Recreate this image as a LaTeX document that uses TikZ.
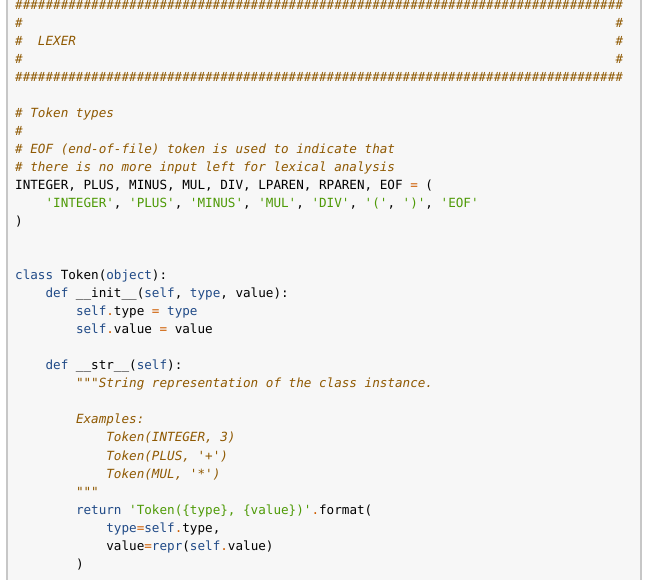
\documentclass[tikz,border=0pt]{standalone}
\usepackage{fontspec}
\newfontfamily\mono{DejaVu Sans Mono}
\definecolor{cmC}{HTML}{8F5902}
\definecolor{kwC}{HTML}{204A87}
\definecolor{stC}{HTML}{4E9A06}
\definecolor{opC}{HTML}{CE5C00}
\newcommand\cC[1]{\textcolor{cmC}{\itshape #1}}
\newcommand\cK[1]{\textcolor{kwC}{#1}}
\newcommand\cS[1]{\textcolor{stC}{#1}}
\newcommand\cO[1]{\textcolor{opC}{#1}}
\def\hten{\#\#\#\#\#\#\#\#\#\#}
\def\hall{\hten\hten\hten\hten\hten\hten\hten\hten}
\newcommand\codeln[3]{\node[code] (l#1) at ({15+#2*7.6},{-(#1*18+10)}) {#3};}
\begin{document}
\begin{tikzpicture}[x=1pt,y=1pt,
  code/.style={anchor=base west,inner sep=0pt,font=\mono\fontsize{12.62}{18}\selectfont}]
\useasboundingbox (0,0) rectangle (646,-580);
\fill[white] (0,0) rectangle (646,-580);
\fill[black!3] (7,0) rectangle (641,-580);
\draw[black!22,line width=1.2] (7,0) -- (7,-580);
\draw[black!22,line width=1.2] (641,0) -- (641,-580);
\codeln{0}{0}{\cC{\hall}}
\codeln{1}{0}{\cC{\#}}
\node[code] (r1) at ({15+79*7.6},-28) {\cC{\#}};
\codeln{2}{0}{\cC{\#\ \ LEXER}}
\node[code] (r2) at ({15+79*7.6},-46) {\cC{\#}};
\codeln{3}{0}{\cC{\#}}
\node[code] (r3) at ({15+79*7.6},-64) {\cC{\#}};
\codeln{4}{0}{\cC{\hall}}
\codeln{6}{0}{\cC{\# Token types}}
\codeln{7}{0}{\cC{\#}}
\codeln{8}{0}{\cC{\# EOF (end-of-file) token is used to indicate that}}
\codeln{9}{0}{\cC{\# there is no more input left for lexical analysis}}
\codeln{10}{0}{INTEGER, PLUS, MINUS, MUL, DIV, LPAREN, RPAREN, EOF \cO{=} (}
\codeln{11}{4}{\cS{'INTEGER'}, \cS{'PLUS'}, \cS{'MINUS'}, \cS{'MUL'}, \cS{'DIV'}, \cS{'('}, \cS{')'}, \cS{'EOF'}}
\codeln{12}{0}{)}
\codeln{15}{0}{\cK{class} Token(\cK{object}):}
\codeln{16}{4}{\cK{def} \_\_init\_\_(\cK{self}, \cK{type}, value):}
\codeln{17}{8}{\cK{self}\cO{.}type \cO{=} \cK{type}}
\codeln{18}{8}{\cK{self}\cO{.}value \cO{=} value}
\codeln{20}{4}{\cK{def} \_\_str\_\_(\cK{self}):}
\codeln{21}{8}{\cC{"""String representation of the class instance.}}
\codeln{23}{8}{\cC{Examples:}}
\codeln{24}{12}{\cC{Token(INTEGER, 3)}}
\codeln{25}{12}{\cC{Token(PLUS, '+')}}
\codeln{26}{12}{\cC{Token(MUL, '*')}}
\codeln{27}{8}{\cC{"""}}
\codeln{28}{8}{\cK{return} \cS{'Token(\{type\}, \{value\})'}\cO{.}format(}
\codeln{29}{12}{\cK{type}\cO{=}\cK{self}\cO{.}type,}
\codeln{30}{12}{value\cO{=}\cK{repr}(\cK{self}\cO{.}value)}
\codeln{31}{8}{)}
\end{tikzpicture}
\end{document}
